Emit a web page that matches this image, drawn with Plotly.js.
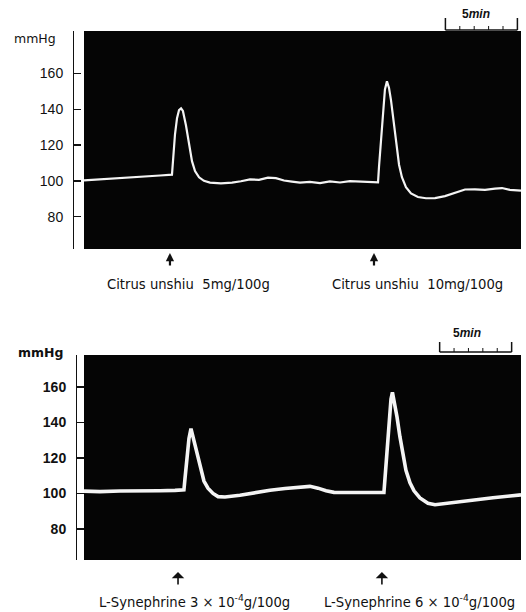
<!DOCTYPE html>
<html>
<head>
<meta charset="utf-8">
<script src="https://cdn.plot.ly/plotly-3.0.1.min.js"></script>
<style>html,body{margin:0;padding:0;background:#fff;}#chart{width:526px;height:612px;}</style>
</head>
<body>
<div id="chart"></div>
<script>
// ---- data (time in minutes, blood pressure in mmHg) ----
const topTime = [0,1.11,2.5,3.89,5.28,6.11,6.18,6.32,6.46,6.6,6.74,6.87,7.08,7.29,7.5,7.71,7.99,8.33,8.75,9.51,10.28,10.9,11.53,12.15,12.78,13.33,13.89,14.44,15,15.69,16.39,17.08,17.78,18.47,19.17,19.86,20.42,20.49,20.63,20.76,20.9,21.04,21.18,21.32,21.53,21.74,21.88,22.08,22.36,22.71,23.19,23.75,24.38,25.07,25.76,26.46,27.15,27.85,28.54,29.03,29.58,30.35];
const topBP = [100.3,100.8,101.5,102.2,103,103.5,112,126,135,139.5,140.5,139,131,120,111,105.5,102,100,99,98.6,99,99.8,100.8,100.6,101.8,101.5,100.2,99.6,99,99.4,98.8,99.7,99.1,99.9,99.6,99.3,99.2,108,124,139,151,155.5,152,145,131,117,109,102,96.5,93,91,90.3,90.4,91.5,93.5,95.2,95.3,95,95.7,96,95,94.6];

const botTime = [0,1.11,2.5,3.89,5.28,6.32,6.94,7.01,7.15,7.29,7.43,7.57,7.78,8.06,8.33,8.61,8.96,9.31,9.79,10.83,11.88,12.92,13.96,15,15.69,16.25,16.81,17.36,18.13,19.17,20.21,20.83,20.9,21.04,21.18,21.32,21.42,21.53,21.74,21.94,22.15,22.36,22.64,22.92,23.33,23.89,24.38,25.07,26.11,27.15,28.4,29.58,30.35];
const botBP = [101.3,101,101.4,101.2,101.5,101.7,102,108,121,131,136.5,132,124,115,107,103,100,98.2,98,99,100.5,101.8,102.8,103.5,104,103,101.5,100.6,100.5,100.4,100.6,100.5,108,123,142,153,157,153,143,132,121,113,106,101.5,97.5,94.5,93.6,94.3,95.6,96.5,97.6,98.6,99.2];

const yTicks = [80, 100, 120, 140, 160];
const topInjections = [5.97, 20.14];
const topLabels = ["Citrus unshiu&nbsp;&nbsp;5mg/100g", "Citrus unshiu&nbsp;&nbsp;10mg/100g"];
const botInjections = [6.53, 20.69];
const botLabels = ["L-Synephrine 3 × 10<sup>-4</sup>g/100g", "L-Synephrine 6 × 10<sup>-4</sup>g/100g"];
const scaleMinutes = 5;
const topScaleStart = 25.1;
const botScaleStart = 24.7;
const scaleText = "5<i>min</i>";

// ---- layout helpers (pixel -> paper) ----
const W = 526, H = 612;
const px = x => x / W;
const py = y => 1 - y / H;
const font = "'Liberation Sans', Arial, sans-serif";
const wideFont = "'DejaVu Sans', Verdana, sans-serif";

const traces = [
  {x: topTime, y: topBP, xaxis: 'x', yaxis: 'y', mode: 'lines',
   line: {color: '#f4f4f4', width: 2.2}, hoverinfo: 'skip'},
  {x: botTime, y: botBP, xaxis: 'x2', yaxis: 'y2', mode: 'lines',
   line: {color: '#f4f4f4', width: 3.6}, hoverinfo: 'skip'}
];

const xCommon = {range: [0, 30.35], domain: [px(84), px(521)], showgrid: false, zeroline: false,
  showline: false, showticklabels: false, ticks: '', fixedrange: true};
const yCommon = {showgrid: false, zeroline: false, showline: true, linecolor: '#111', linewidth: 1.3,
  ticks: 'inside', ticklen: 7, tickwidth: 1.3, tickcolor: '#111', tickvals: yTicks,
  ticklabelstandoff: 7, fixedrange: true};

const shapes = [];
function scaleBar(xref, start, yLine, yEnd, yMinor) {
  shapes.push({type: 'line', xref: xref, yref: 'paper', x0: start, x1: start + scaleMinutes,
    y0: py(yLine), y1: py(yLine), line: {color: '#111', width: 1.3}});
  for (let m = 0; m <= scaleMinutes; m++) {
    const isEnd = (m === 0 || m === scaleMinutes);
    shapes.push({type: 'line', xref: xref, yref: 'paper', x0: start + m, x1: start + m,
      y0: py(yLine), y1: py(isEnd ? yEnd : yMinor), line: {color: '#111', width: isEnd ? 1.5 : 1}});
  }
}
scaleBar('x', topScaleStart, 30, 18, 26);
scaleBar('x2', botScaleStart, 352, 342, 348);

function label(text, x, y, size, fam, extra) {
  return Object.assign({text: text, xref: 'paper', yref: 'paper', x: x, y: y, showarrow: false,
    xanchor: 'center', yanchor: 'middle', font: {family: fam, size: size, color: '#111'}}, extra || {});
}

const annotations = [
  label('mmHg', px(35), py(38), 12.5, wideFont),
  label('<b>mmHg</b>', px(40), py(352), 12.5, wideFont),
  label('<b>' + scaleText + '</b>', px(476), py(14), 12, font),
  label('<b>' + scaleText + '</b>', px(467), py(333), 12, font)
];
const topLabelLeft = [105, 330];
const botLabelLeft = [97, 322];
topInjections.forEach((t, i) => {
  annotations.push({text: '', xref: 'x', yref: 'paper', x: t, y: py(253), showarrow: true,
    ax: 0, ay: 14, arrowhead: 2, arrowsize: 0.75, arrowwidth: 2.2, arrowcolor: '#111'});
  annotations.push(label(topLabels[i], px(topLabelLeft[i]), py(284), 13.2, wideFont, {xanchor: 'left'}));
});
botInjections.forEach((t, i) => {
  annotations.push({text: '', xref: 'x2', yref: 'paper', x: t, y: py(572), showarrow: true,
    ax: 0, ay: 14, arrowhead: 1, arrowsize: 1.3, arrowwidth: 1.6, arrowcolor: '#111'});
  annotations.push(label(botLabels[i], px(botLabelLeft[i]), py(601), 13.2, wideFont, {xanchor: 'left'}));
});

const layout = {
  width: W, height: H, autosize: false,
  margin: {l: 0, r: 0, t: 0, b: 0, pad: 0},
  paper_bgcolor: '#ffffff', plot_bgcolor: '#050505',
  showlegend: false,
  xaxis: Object.assign({}, xCommon, {anchor: 'y'}),
  yaxis: Object.assign({}, yCommon, {domain: [py(249), py(31)], range: [62, 183.6], anchor: 'free', position: px(73),
    tickfont: {family: font, size: 14, color: '#111'}}),
  xaxis2: Object.assign({}, xCommon, {anchor: 'y2'}),
  yaxis2: Object.assign({}, yCommon, {domain: [py(560), py(355)], range: [62.5, 178], anchor: 'free', position: px(76),
    tickfont: {family: font, size: 14, color: '#111', weight: 'bold'}}),
  shapes: shapes,
  annotations: annotations
};

Plotly.newPlot('chart', traces, layout, {displayModeBar: false, staticPlot: true});
</script>
</body>
</html>
